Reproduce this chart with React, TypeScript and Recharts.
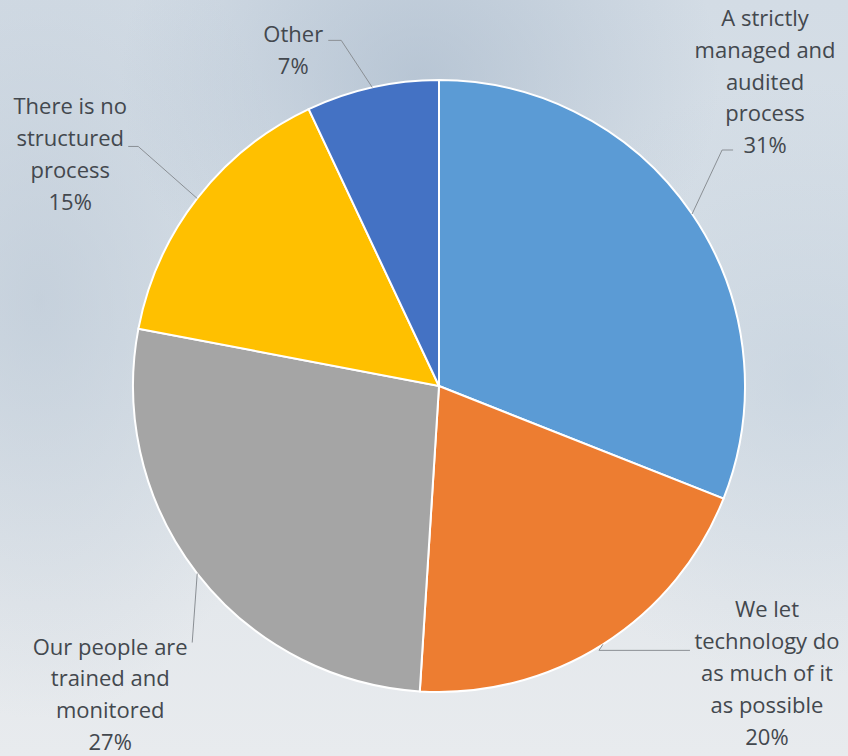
import React from "react";
import { PieChart, Pie, Cell } from "recharts";

const categories = [
  "A strictly managed and audited process",
  "We let technology do as much of it as possible",
  "Our people are trained and monitored",
  "There is no structured process",
  "Other",
];

// wrapped the way the original labels break
const categoryLines = [
  ["A strictly", "managed and", "audited", "process"],
  ["We let", "technology do", "as much of it", "as possible"],
  ["Our people are", "trained and", "monitored"],
  ["There is no", "structured", "process"],
  ["Other"],
];

const shares = [31, 20, 27, 15, 7];

const COLORS = ["#5B9BD5", "#ED7D31", "#A5A5A5", "#FFC000", "#4472C4"];

// label placement relative to the point on the arc at each slice's middle
const LABEL_LAYOUT = [
  { elbow: [30, -64], end: [41, -64], text: [73, -197] },
  { elbow: [-4, 6], end: [87, 6], text: [164, -36] },
  { elbow: [-5, 69], end: [-5, 69], text: [-87, 72] },
  { elbow: [-59, -52], end: [-69, -52], text: [-127, -93] },
  { elbow: [-31, -47], end: [-44, -47], text: [-79, -54] },
];

const data = categories.map((name, i) => ({ name, value: shares[i] }));

const RAD = Math.PI / 180;
const LINE_H = 31.8;

function renderLabel(props: any) {
  const { cx, cy, midAngle, outerRadius, index, value } = props;
  const px = cx + outerRadius * Math.cos(-midAngle * RAD);
  const py = cy + outerRadius * Math.sin(-midAngle * RAD);
  const lay = LABEL_LAYOUT[index];
  const lines = [...categoryLines[index], `${value}%`];
  const tx = px + lay.text[0];
  const ty = py + lay.text[1];
  return (
    <g key={`lbl-${index}`}>
      <polyline
        points={`${px},${py} ${px + lay.elbow[0]},${py + lay.elbow[1]} ${px + lay.end[0]},${py + lay.end[1]}`}
        fill="none"
        stroke="#8a8f94"
        strokeWidth={1}
      />
      <text
        x={tx}
        y={ty}
        textAnchor="middle"
        dominantBaseline="central"
        fill="#43484e"
        fontSize={22}
        fontFamily="'Open Sans', sans-serif"
      >
        {lines.map((l, i) => (
          <tspan key={i} x={tx} y={ty + i * LINE_H} dominantBaseline="central">
            {l}
          </tspan>
        ))}
      </text>
    </g>
  );
}

export default function App() {
  return (
    <div
      style={{
        position: "absolute",
        left: 0,
        top: 0,
        width: 848,
        height: 756,
        overflow: "hidden",
        background:
          "radial-gradient(ellipse 300px 260px at 420px 80px, rgba(160,178,198,0.55), rgba(160,178,198,0) 100%)," +
          "radial-gradient(ellipse 260px 420px at 40px 300px, rgba(185,198,212,0.6), rgba(185,198,212,0) 100%)," +
          "radial-gradient(ellipse 300px 300px at 800px 380px, rgba(190,204,218,0.5), rgba(190,204,218,0) 100%)," +
          "linear-gradient(180deg, #d3dce5 0%, #d9e1e8 45%, #e4e8ec 80%, #e8ebee 100%)",
      }}
    >
      <PieChart width={848} height={756} margin={{ top: 0, right: 0, bottom: 0, left: 0 }}>
        <Pie
          data={data}
          dataKey="value"
          nameKey="name"
          cx={439}
          cy={386}
          outerRadius={306}
          startAngle={90}
          endAngle={-270}
          stroke="#ffffff"
          strokeWidth={2}
          label={renderLabel}
          labelLine={false}
          isAnimationActive={false}
        >
          {data.map((d, i) => (
            <Cell key={d.name} fill={COLORS[i]} />
          ))}
        </Pie>
      </PieChart>
    </div>
  );
}
